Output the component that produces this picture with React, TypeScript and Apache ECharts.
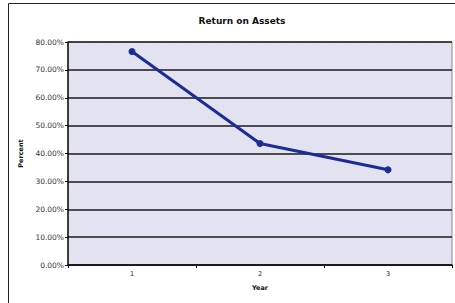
import React, { useEffect, useRef } from "react";
import * as echarts from "echarts";

const categories = ["1", "2", "3"];
const returnOnAssets = [76.6, 43.6, 34.2];
const yTicks = [0, 10, 20, 30, 40, 50, 60, 70, 80];

export default function App() {
  const ref = useRef<HTMLDivElement>(null);
  useEffect(() => {
    if (!ref.current) return;
    const chart = echarts.init(ref.current, null, { renderer: "svg" });
    chart.setOption({
      animation: false,
      backgroundColor: "#ffffff",
      title: {
        text: "Return on Assets",
        left: 237,
        textAlign: "center",
        top: 11,
        textStyle: { fontFamily: "DejaVu Sans", fontWeight: "bold", fontSize: 9, color: "#111" },
      },
      graphic: [
        {
          type: "rect",
          shape: { x: 8.5, y: 3.5, width: 470, height: 320 },
          style: { fill: "none", stroke: "#222", lineWidth: 1 },
          silent: true,
          z: -1,
        },
      ],
      grid: {
        left: 68,
        top: 42,
        right: 3,
        bottom: 38,
        show: true,
        backgroundColor: "#e2e2f1",
        borderColor: "#8a8a8a",
        borderWidth: 1,
      },
      xAxis: {
        type: "category",
        data: categories,
        boundaryGap: true,
        name: "Year",
        nameLocation: "middle",
        nameGap: 19,
        nameTextStyle: { fontFamily: "DejaVu Sans", fontWeight: "bold", fontSize: 6.5, color: "#111" },
        axisLine: { show: true, lineStyle: { color: "#111", width: 1.5 } },
        axisTick: { show: true, alignWithLabel: false, length: 3, lineStyle: { color: "#111" } },
        axisLabel: { fontFamily: "DejaVu Sans", fontSize: 6.5, color: "#222", margin: 5 },
        splitLine: { show: false },
      },
      yAxis: {
        type: "value",
        min: yTicks[0],
        max: yTicks[yTicks.length - 1],
        interval: 10,
        name: "Percent",
        nameLocation: "middle",
        nameRotate: 90,
        nameGap: 41,
        nameTextStyle: { fontFamily: "DejaVu Sans", fontWeight: "bold", fontSize: 6.5, color: "#111" },
        axisLine: { show: true, lineStyle: { color: "#111", width: 1.5 } },
        axisTick: { show: true, length: 3, lineStyle: { color: "#111" } },
        axisLabel: {
          fontFamily: "DejaVu Sans",
          fontSize: 7.5,
          color: "#333",
          margin: 4,
          formatter: (v: number) => v.toFixed(2) + "%",
        },
        splitLine: { show: true, lineStyle: { color: "#1a1a1a", width: 1.5 } },
      },
      series: [
        {
          type: "line",
          data: returnOnAssets,
          symbol: "circle",
          symbolSize: 7,
          lineStyle: { color: "#1d2b96", width: 3 },
          itemStyle: { color: "#1d2b96" },
        },
      ],
    });
    return () => chart.dispose();
  }, []);
  return (
    <div
      ref={ref}
      style={{ position: "fixed", left: 0, top: 0, width: 455, height: 303 }}
    />
  );
}
